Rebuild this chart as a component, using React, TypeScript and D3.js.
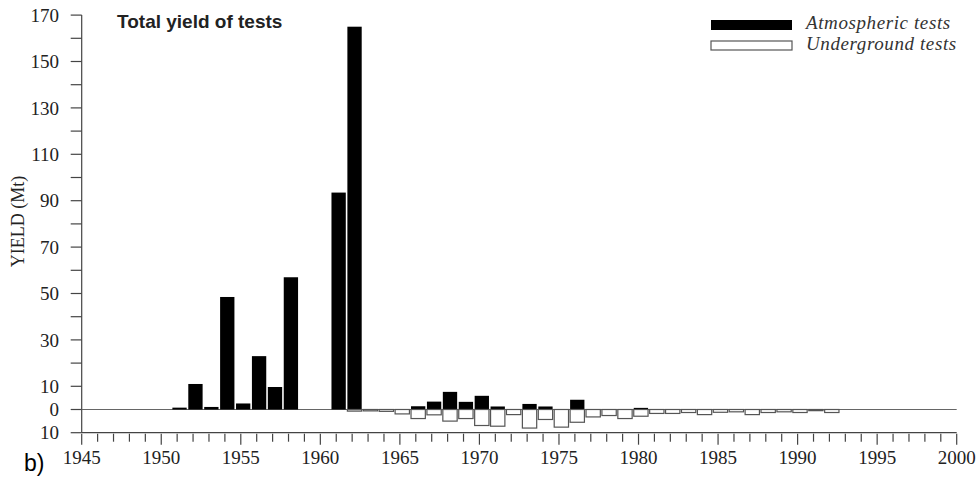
import React from 'react';
import * as d3 from 'd3';

// yearly totals, megatons
const atmYears = [1951, 1952, 1953, 1954, 1955, 1956, 1957, 1958, 1961, 1962, 1966, 1967, 1968, 1969, 1970, 1971, 1973, 1974, 1976, 1980];
const atmYield = [0.8, 11, 1.1, 48.5, 2.6, 23, 9.7, 57, 93.5, 165, 1.4, 3.4, 7.6, 3.3, 5.9, 1.3, 2.4, 1.3, 4.2, 0.7];

const ugYears = [1962, 1963, 1964, 1965, 1966, 1967, 1968, 1969, 1970, 1971, 1972, 1973, 1974, 1975, 1976, 1977, 1978, 1979, 1980, 1981, 1982, 1983, 1984, 1985, 1986, 1987, 1988, 1989, 1990, 1991, 1992];
const ugYield = [0.7, 0.6, 0.8, 1.9, 3.9, 2.3, 5.0, 3.9, 6.9, 7.2, 2.2, 8.0, 4.3, 7.6, 5.5, 3.2, 2.6, 3.9, 2.9, 1.7, 1.7, 1.3, 2.2, 1.2, 1.0, 2.2, 1.3, 1.0, 1.3, 0.5, 1.3];

const yLabelTicks = [170, 150, 130, 110, 90, 70, 50, 30, 10, 0, -10];
const xLabelTicks = [1945, 1950, 1955, 1960, 1965, 1970, 1975, 1980, 1985, 1990, 1995, 2000];

const W = 978;
const H = 484;

export default function App() {
  const x = d3.scaleLinear().domain([1945, 2000]).range([81.7, 956.7]);
  const y = d3.scaleLinear().domain([-10, 170]).range([432.7, 15.1]);
  const barL = (yr: number) => x(yr - 0.3);
  const barW = x(1945.9) - x(1945);

  const yMinor = d3.range(-10, 171, 10);
  const xMinor = d3.range(1945, 2001, 1);
  const serif = '"Liberation Serif", "DejaVu Serif", serif';
  const sans = '"Liberation Sans", Arial, sans-serif';

  return (
    <svg width={W} height={H} style={{ position: 'absolute', left: 0, top: 0, background: '#fff' }}>
      {/* y axis */}
      <line x1={x(1945)} x2={x(1945)} y1={y(170)} y2={y(-10)} stroke="#444" strokeWidth={1.2} />
      {yMinor.map((v) => (
        <line key={v} x1={x(1945) - 11} x2={x(1945)} y1={y(v)} y2={y(v)} stroke="#444" strokeWidth={1.2} />
      ))}
      {yLabelTicks.map((v) => (
        <text key={v} x={59} y={y(v)} dy="0.35em" textAnchor="end" fontFamily={serif} fontSize={19} fill="#222">
          {Math.abs(v)}
        </text>
      ))}
      <text
        transform={`translate(18,${y(81)}) rotate(-90)`}
        textAnchor="middle"
        dy="0.35em"
        fontFamily={serif}
        fontSize={18}
        fill="#222"
      >
        YIELD  (Mt)
      </text>

      {/* x axis at -10 */}
      <line x1={x(1945)} x2={x(2000)} y1={y(-10)} y2={y(-10)} stroke="#444" strokeWidth={1.2} />
      {xMinor.map((v) => (
        <line key={v} x1={x(v)} x2={x(v)} y1={y(-10) + 1} y2={y(-10) + (v % 5 === 0 ? 12 : 9)} stroke="#444" strokeWidth={1.2} />
      ))}
      {xLabelTicks.map((v) => (
        <text key={v} x={x(v)} y={y(-10) + 31} textAnchor="middle" fontFamily={serif} fontSize={19} fill="#222">
          {v}
        </text>
      ))}

      {/* zero line */}
      <line x1={x(1945)} x2={x(2000)} y1={y(0)} y2={y(0)} stroke="#666" strokeWidth={1.2} />

      {/* atmospheric */}
      {atmYears.map((yr, i) => (
        <rect key={yr} x={barL(yr)} width={barW} y={y(atmYield[i])} height={y(0) - y(atmYield[i])} fill="#000" />
      ))}
      {/* underground */}
      {ugYears.map((yr, i) => (
        <rect
          key={yr}
          x={barL(yr)}
          width={barW}
          y={y(0)}
          height={y(-ugYield[i]) - y(0)}
          fill="#fff"
          stroke="#555"
          strokeWidth={1.2}
        />
      ))}

      {/* title */}
      <text x={117} y={28} fontFamily={sans} fontWeight="bold" fontSize={19} fill="#222">
        Total yield of tests
      </text>

      {/* legend */}
      <rect x={711} y={20} width={81} height={10} fill="#000" />
      <rect x={711} y={41} width={81} height={9} fill="#fff" stroke="#555" strokeWidth={1.2} />
      <text x={806} y={29} fontFamily={serif} fontStyle="italic" fontSize={19} letterSpacing={0.6} fill="#333">
        Atmospheric tests
      </text>
      <text x={806} y={50} fontFamily={serif} fontStyle="italic" fontSize={19} letterSpacing={0.6} fill="#333">
        Underground tests
      </text>

      <text x={24} y={471} fontFamily={sans} fontSize={23} fill="#000">
        b)
      </text>
    </svg>
  );
}
